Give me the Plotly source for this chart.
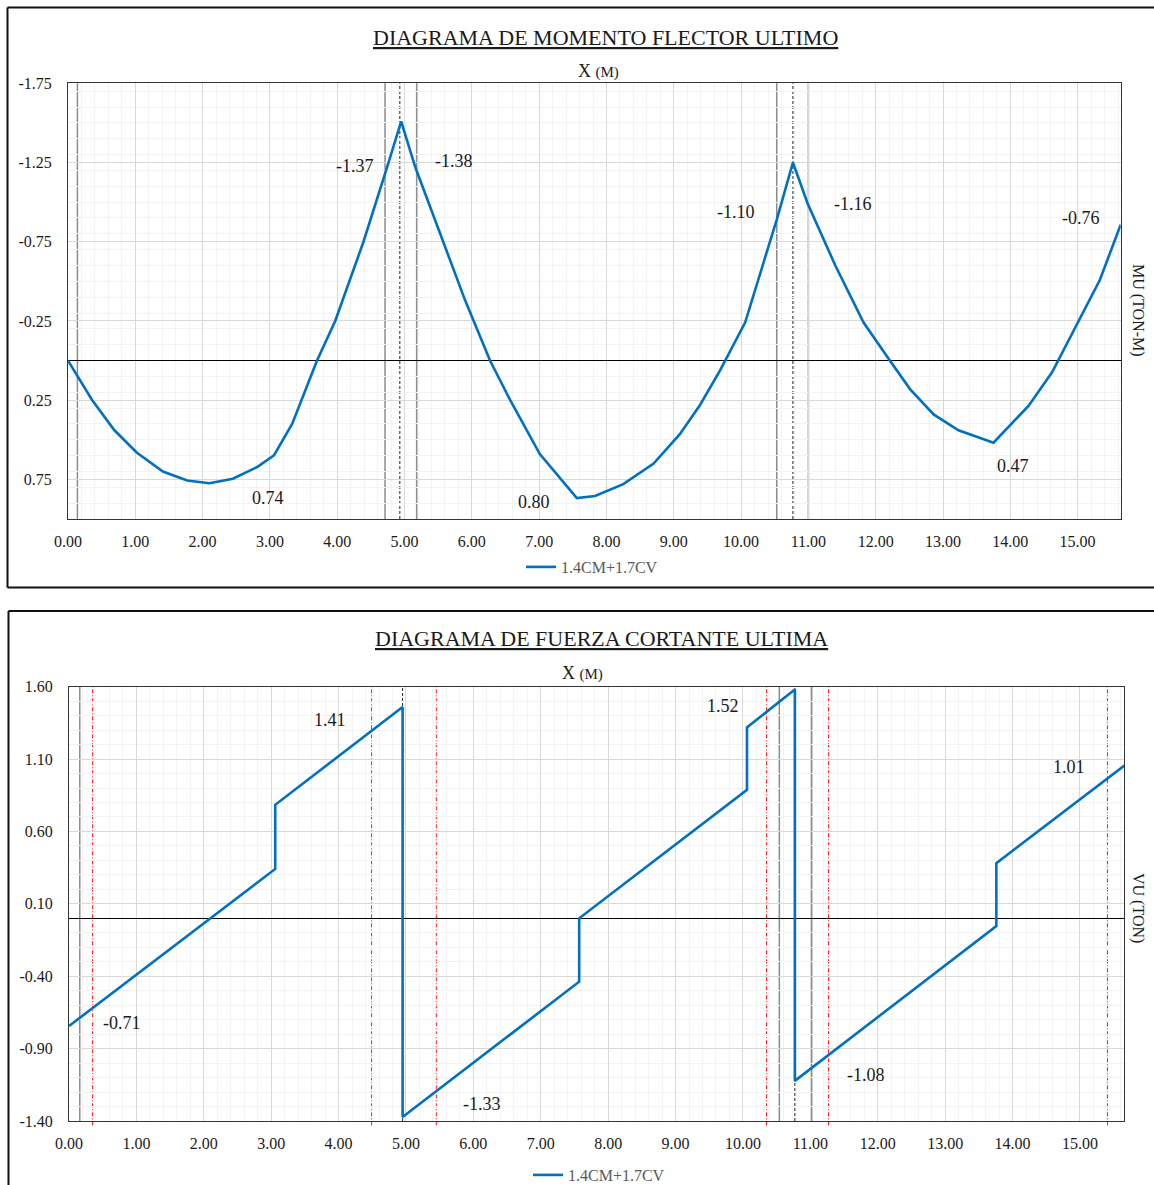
import plotly.graph_objects as go

# ---------------- DATA ----------------
# Ultimate bending moment diagram (x in m, Mu in ton-m)
moment_x = [0.00, 0.36, 0.69, 1.02, 1.41, 1.77, 2.10, 2.45, 2.81, 3.06, 3.33, 3.70,
            3.97, 4.39, 4.74, 4.95, 5.16, 5.58, 5.90, 6.27, 6.57, 7.01, 7.56, 7.83,
            8.25, 8.70, 9.09, 9.39, 9.69, 10.06, 10.53, 10.77, 10.99, 11.40, 11.82,
            12.21, 12.51, 12.86, 13.23, 13.75, 14.27, 14.62, 14.99, 15.33, 15.64]
moment_mu = [0.00, 0.25, 0.44, 0.58, 0.70, 0.757, 0.774, 0.746, 0.672, 0.598, 0.40, 0.00,
             -0.25, -0.75, -1.22, -1.51, -1.22, -0.75, -0.38, 0.00, 0.25, 0.59, 0.868, 0.855,
             0.78, 0.65, 0.465, 0.28, 0.06, -0.24, -0.89, -1.25, -0.99, -0.60, -0.24,
             0.00, 0.18, 0.34, 0.44, 0.518, 0.286, 0.074, -0.233, -0.508, -0.858]

# Ultimate shear force diagram (x in m, Vu in ton)
shear_x = [0.00, 3.06, 3.06, 4.95, 4.95, 7.57, 7.57, 10.06, 10.06, 10.77, 10.77, 13.76, 13.76, 15.66]
shear_vu = [-0.744, 0.341, 0.784, 1.46, -1.372, -0.438, 0.00, 0.888, 1.319, 1.58, -1.123, -0.053, 0.381, 1.056]

series_name = "1.4CM+1.7CV"

# Axis ticks
x_ticks = list(range(0, 16))
moment_ticks = [-1.75, -1.25, -0.75, -0.25, 0.25, 0.75]
shear_ticks = [-1.40, -0.90, -0.40, 0.10, 0.60, 1.10, 1.60]

# Value labels
moment_labels = ["-1.37", "-1.38", "-1.10", "-1.16", "-0.76", "0.74", "0.80", "0.47"]
moment_label_x = [4.27, 5.73, 9.92, 11.66, 15.05, 2.97, 6.92, 14.04]
moment_label_y = [-1.23, -1.26, -0.94, -0.985, -0.90, 0.87, 0.89, 0.665]

shear_labels = ["1.41", "1.52", "1.01", "-0.71", "-1.33", "-1.08"]
shear_label_x = [3.87, 9.70, 14.84, 0.79, 6.13, 11.83]
shear_label_y = [1.372, 1.469, 1.047, -0.723, -1.282, -1.082]

# Reference lines (m)
moment_support_faces = [0.14, 4.71, 5.18, 10.53, 11.00]
moment_support_axes = [4.93, 10.77]
shear_support_faces = [0.16, 10.54, 11.02]
shear_support_axes = [4.95, 10.77]
shear_d_sections = [0.35, 4.49, 5.45, 10.35, 11.27, 15.41]

# ---------------- FIGURE ----------------
SERIF = "Liberation Serif, Times New Roman, serif"
BLUE = "#0070C0"
TXT = "#1a1a1a"
W, H = 1154, 1185


def px(t):
    return t / W


def py(t):
    return 1 - t / H


def fmt(v):
    return f"{v:.2f}"


fig = go.Figure()
fig.add_trace(go.Scatter(x=moment_x, y=moment_mu, mode="lines", name=series_name,
                         line=dict(color=BLUE, width=2.6), xaxis="x", yaxis="y",
                         legend="legend"))
fig.add_trace(go.Scatter(x=shear_x, y=shear_vu, mode="lines", name=series_name,
                         line=dict(color=BLUE, width=2.6), xaxis="x2", yaxis="y2",
                         legend="legend2"))

common_axis = dict(
    showline=True, linecolor="#333333", linewidth=1, mirror=True,
    showgrid=True, gridcolor="#d9d9d9", gridwidth=1,
    ticks="", tickmode="array", automargin=False,
    tickfont=dict(family=SERIF, size=16, color=TXT),
)
minor_x = dict(dtick=0.2, showgrid=True, gridcolor="#f3f3f3")
minor_y = dict(dtick=0.1, showgrid=True, gridcolor="#f3f3f3")

fig.update_layout(
    width=W, height=H, autosize=False,
    margin=dict(l=0, r=0, t=0, b=0, pad=0, autoexpand=False),
    paper_bgcolor="white", plot_bgcolor="white",
    xaxis=dict(**common_axis, domain=[px(68), px(1120.7)], range=[0, 15.64],
               tickvals=x_ticks, ticktext=[fmt(v) for v in x_ticks],
               anchor="y", ticklabelstandoff=8, zeroline=False, minor=minor_x),
    yaxis=dict(**common_axis, domain=[py(519), py(83.3)], range=[1.0, -1.75],
               tickvals=moment_ticks, ticktext=[fmt(v) for v in moment_ticks],
               anchor="x", ticklabelstandoff=12,
               zeroline=True, zerolinecolor="#000000", zerolinewidth=1, minor=minor_y),
    xaxis2=dict(**common_axis, domain=[px(69), px(1124.4)], range=[0, 15.66],
                tickvals=x_ticks, ticktext=[fmt(v) for v in x_ticks],
                anchor="y2", ticklabelstandoff=8, zeroline=False, minor=minor_x),
    yaxis2=dict(**common_axis, domain=[py(1121), py(686.7)], range=[-1.40, 1.60],
                tickvals=shear_ticks, ticktext=[fmt(v) for v in shear_ticks],
                anchor="x2", ticklabelstandoff=12,
                zeroline=True, zerolinecolor="#000000", zerolinewidth=1, minor=minor_y),
    legend=dict(x=px(592), y=py(567), xanchor="center", yanchor="middle",
                orientation="h", bgcolor="rgba(0,0,0,0)",
                font=dict(family=SERIF, size=16, color="#595959")),
    legend2=dict(x=px(599), y=py(1175), xanchor="center", yanchor="middle",
                 orientation="h", bgcolor="rgba(0,0,0,0)",
                 font=dict(family=SERIF, size=16, color="#595959")),
    showlegend=True,
)

shapes = []
frame_line = dict(color="#111111", width=2)
# outer frames, drawn as separate edges kept inside the figure
for (x0, y0, x1, y1) in [
    (px(7.5), py(7.5), 1, py(7.5)),        # top box: top edge
    (px(7.5), py(587.5), 1, py(587.5)),    # top box: bottom edge
    (px(7.5), py(7.5), px(7.5), py(587.5)),  # top box: left edge
    (px(8.5), py(611), 1, py(611)),        # bottom box: top edge
    (px(8.5), py(611), px(8.5), 0),        # bottom box: left edge
]:
    shapes.append(dict(type="line", xref="paper", yref="paper", x0=x0, y0=y0, x1=x1, y1=y1,
                       line=frame_line, layer="above"))

for xv in moment_support_faces:
    shapes.append(dict(type="line", xref="x", yref="y domain", x0=xv, x1=xv, y0=0, y1=1,
                       line=dict(color="#8c8c8c", width=1.5), layer="below"))
for xv in moment_support_axes:
    shapes.append(dict(type="line", xref="x", yref="y domain", x0=xv, x1=xv, y0=0, y1=1,
                       line=dict(color="#222222", width=1, dash="3px,2px"), layer="below"))
for xv in shear_support_faces:
    shapes.append(dict(type="line", xref="x2", yref="y2 domain", x0=xv, x1=xv, y0=0, y1=1,
                       line=dict(color="#8c8c8c", width=1.5), layer="below"))
for xv in shear_d_sections:
    shapes.append(dict(type="line", xref="x2", yref="y2 domain", x0=xv, x1=xv, y0=-0.01, y1=1,
                       line=dict(color="#ff1a1a", width=1, dash="4px,2px,1px,2px"), layer="below"))
for xv in shear_support_axes:
    shapes.append(dict(type="line", xref="x2", yref="y2 domain", x0=xv, x1=xv, y0=0, y1=1,
                       line=dict(color="#222222", width=1, dash="3px,2px"), layer="below"))
fig.update_layout(shapes=shapes)

annotations = []
lab_font = dict(family=SERIF, size=18, color=TXT)
for t, xv, yv in zip(moment_labels, moment_label_x, moment_label_y):
    annotations.append(dict(text=t, x=xv, y=yv, xref="x", yref="y", showarrow=False,
                            xanchor="center", yanchor="middle", font=lab_font))
for t, xv, yv in zip(shear_labels, shear_label_x, shear_label_y):
    annotations.append(dict(text=t, x=xv, y=yv, xref="x2", yref="y2", showarrow=False,
                            xanchor="center", yanchor="middle", font=lab_font))

title_font = dict(family=SERIF, size=22, color=TXT)
axis_font = dict(family=SERIF, size=18, color=TXT)
side_font = dict(family=SERIF, size=16, color=TXT)
paper_texts = [
    ("<u>DIAGRAMA DE MOMENTO FLECTOR ULTIMO</u>", 605, 37, title_font, 0),
    ("<u>DIAGRAMA DE FUERZA CORTANTE ULTIMA</u>", 601, 638, title_font, 0),
    ("X <span style='font-size:15px'>(M)</span>", 599, 71, axis_font, 0),
    ("X <span style='font-size:15px'>(M)</span>", 582, 673, axis_font, 0),
    ("MU (TON-M)", 1138, 310, side_font, 90),
    ("VU (TON)", 1138, 908, side_font, 90),
]
for t, xp, yp, f, ang in paper_texts:
    annotations.append(dict(text=t, x=px(xp), y=py(yp), xref="paper", yref="paper",
                            xanchor="center", yanchor="middle", showarrow=False,
                            textangle=ang, font=f))
fig.update_layout(annotations=annotations)

fig.write_html("out.html", config={"displayModeBar": False},
               post_script="document.body.style.margin='0px';document.body.style.overflow='hidden';")
